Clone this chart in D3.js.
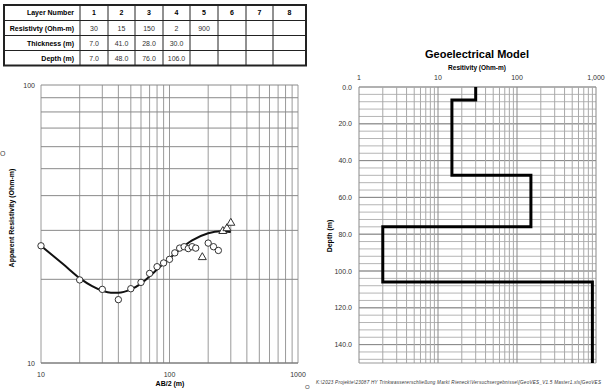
<!DOCTYPE html>
<html lang="en">
<head>
    <meta charset="UTF-8">
    <title>VES Sounding</title>
    <script src="https://d3js.org/d3.v7.min.js"></script>
    <style>
        body { margin: 0; background: #fff; }
        svg { display: block; font-family: Arial, "Liberation Sans", sans-serif; }
        .tick-label { font-size: 7px; fill: #333; }
        .bold { font-weight: bold; }
    </style>
</head>
<body>
<svg width="605" height="390"></svg>

<script>
    // layer model (table)
    const layerNumbers = [1, 2, 3, 4, 5, 6, 7, 8];
    const resistivity = [30, 15, 150, 2, 900];
    const thickness = [7.0, 41.0, 28.0, 30.0];
    const depth = [7.0, 48.0, 76.0, 106.0];

    // measured apparent resistivity (circles)
    const measAB2 = [10, 20, 30, 40, 50, 60, 70, 80, 90, 100, 110, 120, 130, 140, 150, 160, 200, 220, 240];
    const measRho = [26.4, 19.9, 18.4, 16.9, 18.5, 19.5, 21.0, 22.2, 22.9, 23.6, 24.9, 25.9, 26.2, 25.8, 26.2, 25.9, 27.0, 26.2, 25.4];

    // second set (triangles)
    const triAB2 = [180, 260, 280, 300];
    const triRho = [24.0, 29.8, 30.5, 31.9];

    // model curve
    const curveAB2 = [10, 15, 20, 25, 30, 35, 40, 50, 60, 70, 80, 90, 100, 120, 150, 200, 250, 300];
    const curveRho = [26.4, 22.6, 20.2, 18.9, 18.2, 17.9, 17.9, 18.4, 19.3, 20.5, 21.7, 22.8, 23.8, 25.6, 27.6, 29.3, 29.8, 29.6];

    const leftXTicks = [10, 100, 1000];
    const leftYTicks = [10, 100];
    const rightXTicks = [1, 10, 100, 1000];
    const rightYTicks = [0, 20, 40, 60, 80, 100, 120, 140];

    const svg = d3.select("svg");

    // ---------- table ----------
    const rowLabels = ["Layer Number", "Resistivty (Ohm-m)", "Thickness (m)", "Depth (m)"];
    const rows = [
        layerNumbers,
        resistivity,
        thickness.map(d => d.toFixed(1)),
        depth.map(d => d.toFixed(1))
    ];
    const colX = [4, 80, 108, 135, 163, 190, 218, 246, 273, 306];
    const rowY = [5, 20.5, 35.5, 50.5, 65.5];
    const table = svg.append("g");

    table.selectAll("line.h")
        .data(rowY)
        .enter()
        .append("line")
        .attr("x1", colX[0]).attr("x2", colX[colX.length - 1])
        .attr("y1", d => d).attr("y2", d => d)
        .attr("stroke", "#222").attr("stroke-width", 1);

    table.selectAll("line.v")
        .data(colX)
        .enter()
        .append("line")
        .attr("x1", d => d).attr("x2", d => d)
        .attr("y1", rowY[0]).attr("y2", rowY[rowY.length - 1])
        .attr("stroke", "#222").attr("stroke-width", 1);

    table.append("rect")
        .attr("x", colX[0]).attr("y", rowY[0])
        .attr("width", colX[colX.length - 1] - colX[0])
        .attr("height", rowY[rowY.length - 1] - rowY[0])
        .attr("fill", "none").attr("stroke", "#222").attr("stroke-width", 2);

    rowLabels.forEach((lab, i) => {
        table.append("text")
            .attr("class", "bold")
            .attr("x", colX[1] - 6)
            .attr("y", (rowY[i] + rowY[i + 1]) / 2 + 2.5)
            .attr("text-anchor", "end")
            .attr("font-size", 7)
            .text(lab);
        rows[i].forEach((v, j) => {
            table.append("text")
                .attr("class", i === 0 ? "bold" : null)
                .attr("x", (colX[j + 1] + colX[j + 2]) / 2)
                .attr("y", (rowY[i] + rowY[i + 1]) / 2 + 2.5)
                .attr("text-anchor", "middle")
                .attr("font-size", 7)
                .attr("fill", i === 0 ? "#000" : "#333")
                .text(v);
        });
    });

    // ---------- left: sounding curve ----------
    const x = d3.scaleLog().domain([10, 1000]).range([41, 298]);
    const y = d3.scaleLog().domain([10, 100]).range([363, 85]);

    const xGrid = [];
    for (let dec = 10; dec < 1000; dec *= 10)
        for (let k = 1; k < 10; k++) xGrid.push(dec * k);
    xGrid.push(1000);
    const yGrid = d3.range(1, 11).map(k => k * 10);

    const left = svg.append("g");
    left.selectAll(".vg")
        .data(xGrid)
        .enter()
        .append("line")
        .attr("x1", d => x(d)).attr("x2", d => x(d))
        .attr("y1", y(100)).attr("y2", y(10))
        .attr("stroke", "#9a9a9a").attr("stroke-width", 1);

    left.selectAll(".hg")
        .data(yGrid)
        .enter()
        .append("line")
        .attr("x1", x(10)).attr("x2", x(1000))
        .attr("y1", d => y(d)).attr("y2", d => y(d))
        .attr("stroke", "#8a8a8a").attr("stroke-width", 1);

    left.append("line")
        .attr("x1", x(10)).attr("x2", x(1000))
        .attr("y1", y(10)).attr("y2", y(10))
        .attr("stroke", "#777");

    left.selectAll(".xl")
        .data(leftXTicks)
        .enter()
        .append("text")
        .attr("class", "tick-label")
        .attr("x", d => x(d))
        .attr("y", 377)
        .attr("text-anchor", "middle")
        .text(d => d);

    left.selectAll(".yl")
        .data(leftYTicks)
        .enter()
        .append("text")
        .attr("class", "tick-label")
        .attr("x", 35)
        .attr("y", d => y(d) + 2.5)
        .attr("text-anchor", "end")
        .text(d => d);

    left.append("text")
        .attr("class", "bold")
        .attr("x", 170).attr("y", 386)
        .attr("text-anchor", "middle")
        .attr("font-size", 7)
        .text("AB/2 (m)");

    left.append("text")
        .attr("class", "bold")
        .attr("transform", "translate(14,218) rotate(-90)")
        .attr("text-anchor", "middle")
        .attr("font-size", 7)
        .text("Apparent Resistivity (Ohm-m)");

    const curve = d3.line()
        .x(d => x(d[0]))
        .y(d => y(d[1]))
        .curve(d3.curveMonotoneX);

    left.append("path")
        .datum(d3.zip(curveAB2, curveRho))
        .attr("d", curve)
        .attr("fill", "none")
        .attr("stroke", "#111")
        .attr("stroke-width", 2);

    left.selectAll(".pt")
        .data(d3.zip(measAB2, measRho))
        .enter()
        .append("circle")
        .attr("cx", d => x(d[0]))
        .attr("cy", d => y(d[1]))
        .attr("r", 3.2)
        .attr("fill", "#fff")
        .attr("stroke", "#333")
        .attr("stroke-width", 1);

    left.selectAll(".tri")
        .data(d3.zip(triAB2, triRho))
        .enter()
        .append("path")
        .attr("d", d3.symbol(d3.symbolTriangle, 28))
        .attr("transform", d => `translate(${x(d[0])},${y(d[1])})`)
        .attr("fill", "#fff")
        .attr("stroke", "#333")
        .attr("stroke-width", 1);

    // ---------- right: geoelectrical model ----------
    const rx = d3.scaleLog().domain([1, 1000]).range([359, 596]);
    const ry = d3.scaleLinear().domain([0, 150]).range([87, 363]);

    const rxGrid = [];
    for (let dec = 1; dec < 1000; dec *= 10)
        for (let k = 1; k < 10; k++) rxGrid.push(dec * k);
    rxGrid.push(1000);
    const ryMinor = d3.range(0, 150, 4);

    const right = svg.append("g");
    right.selectAll(".hm")
        .data(ryMinor)
        .enter()
        .append("line")
        .attr("x1", rx(1)).attr("x2", rx(1000))
        .attr("y1", d => ry(d)).attr("y2", d => ry(d))
        .attr("stroke", "#b5b5b5").attr("stroke-width", 1);

    right.selectAll(".hM")
        .data(rightYTicks)
        .enter()
        .append("line")
        .attr("x1", rx(1)).attr("x2", rx(1000))
        .attr("y1", d => ry(d)).attr("y2", d => ry(d))
        .attr("stroke", "#888").attr("stroke-width", 1);

    right.selectAll(".vg")
        .data(rxGrid)
        .enter()
        .append("line")
        .attr("x1", d => rx(d)).attr("x2", d => rx(d))
        .attr("y1", ry(0)).attr("y2", ry(150))
        .attr("stroke", d => rightXTicks.includes(d) ? "#888" : "#a8a8a8")
        .attr("stroke-width", 1);

    right.append("line")
        .attr("x1", rx(1)).attr("x2", rx(1000))
        .attr("y1", ry(150)).attr("y2", ry(150))
        .attr("stroke", "#999");

    right.selectAll(".xl")
        .data(rightXTicks)
        .enter()
        .append("text")
        .attr("class", "tick-label")
        .attr("x", d => rx(d))
        .attr("y", 80)
        .attr("text-anchor", "middle")
        .text(d => d3.format(",")(d));

    right.selectAll(".yl")
        .data(rightYTicks)
        .enter()
        .append("text")
        .attr("class", "tick-label")
        .attr("x", 352)
        .attr("y", d => ry(d) + 2.5)
        .attr("text-anchor", "end")
        .text(d => d.toFixed(1));

    right.append("text")
        .attr("class", "bold")
        .attr("x", 477).attr("y", 58)
        .attr("text-anchor", "middle")
        .attr("font-size", 11)
        .text("Geoelectrical Model");

    right.append("text")
        .attr("class", "bold")
        .attr("x", 477).attr("y", 70)
        .attr("text-anchor", "middle")
        .attr("font-size", 6.5)
        .text("Resitivity (Ohm-m)");

    right.append("text")
        .attr("class", "bold")
        .attr("transform", "translate(332,236) rotate(-90)")
        .attr("text-anchor", "middle")
        .attr("font-size", 7)
        .text("Depth (m)");

    // step profile from the layer table
    const tops = [0, ...depth];
    const steps = [];
    resistivity.forEach((r, i) => {
        steps.push([r, tops[i]]);
        steps.push([r, i < depth.length ? depth[i] : 150]);
    });

    right.append("path")
        .datum(steps)
        .attr("d", d3.line().x(d => rx(d[0])).y(d => ry(d[1])))
        .attr("fill", "none")
        .attr("stroke", "#000")
        .attr("stroke-width", 3)
        .attr("stroke-linejoin", "miter");

    svg.append("text")
        .attr("x", 316).attr("y", 384)
        .attr("font-size", 4.6)
        .attr("font-style", "italic")
        .attr("fill", "#333")
        .attr("textLength", 285)
        .text("K:\\2023 Projekte\\23087 HY Trinkwassererschließung Markt Rieneck\\Versuchsergebnisse\\[GeoVES_V1.5 Master1.xls]GeoVES");

    // small marks at the edges
    svg.append("text").attr("x", 0).attr("y", 156).attr("font-size", 7).attr("fill", "#444").text("O");
    svg.append("text").attr("x", 305).attr("y", 389).attr("font-size", 6).attr("fill", "#444").text("O");
</script>
</body>
</html>
